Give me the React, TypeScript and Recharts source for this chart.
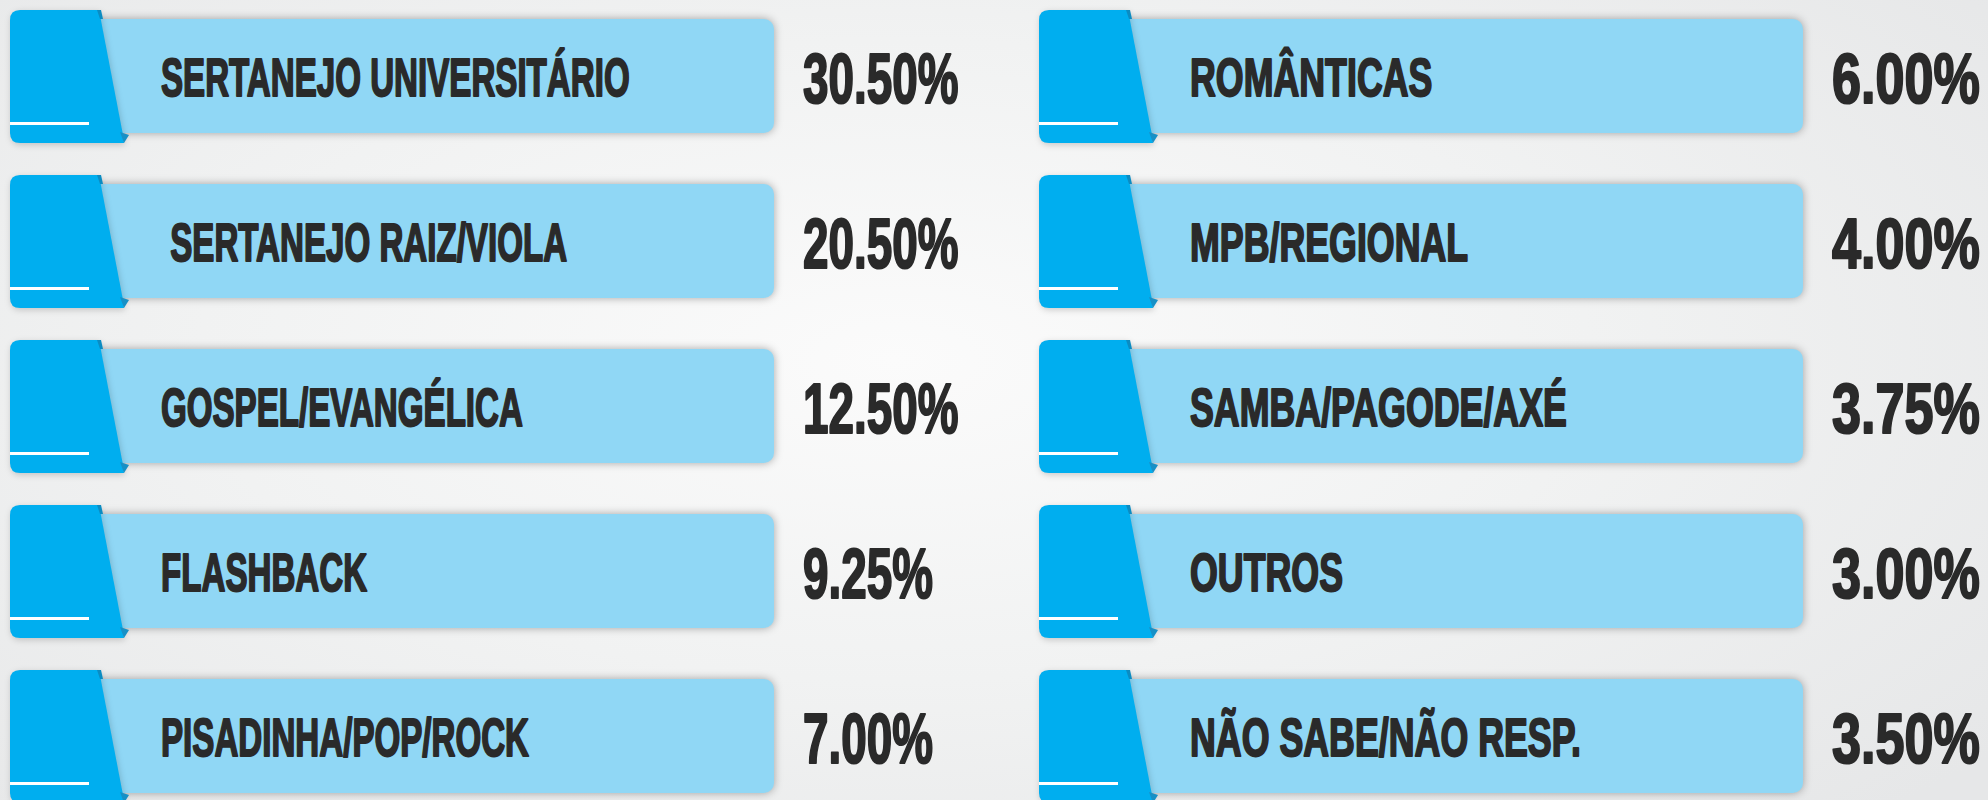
import React from 'react';
import { BarChart, Bar, XAxis, YAxis } from 'recharts';

const leftCategories = [
  'SERTANEJO UNIVERSITÁRIO',
  ' SERTANEJO RAIZ/VIOLA',
  'GOSPEL/EVANGÉLICA',
  'FLASHBACK',
  'PISADINHA/POP/ROCK',
];
const leftValues = [30.5, 20.5, 12.5, 9.25, 7.0];

const rightCategories = [
  'ROMÂNTICAS',
  'MPB/REGIONAL',
  'SAMBA/PAGODE/AXÉ',
  'OUTROS',
  'NÃO SABE/NÃO RESP.',
];
const rightValues = [6.0, 4.0, 3.75, 3.0, 3.5];

const leftData = leftCategories.map((name, i) => ({ name, value: leftValues[i] }));
const rightData = rightCategories.map((name, i) => ({ name, value: rightValues[i] }));

const TAB = '#00AEEF';
const LIGHT = '#90D7F5';
const TEXT = '#2a2a2a';

const makeRibbon = (nameScale: number, valueScale: number) => (props: any) => {
  const { x, y, width, payload } = props;
  const X = x;
  const Y = y;
  const W = width;
  const tabPath = `M ${X + 10} ${Y} L ${X + 89} ${Y} L ${X + 113} ${Y + 125} L ${X + 114} ${Y + 133} L ${X + 10} ${Y + 133} Q ${X} ${Y + 133} ${X} ${Y + 123} L ${X} ${Y + 10} Q ${X} ${Y} ${X + 10} ${Y} Z`;
  return (
    <g>
      <rect
        x={X + 60}
        y={Y + 9}
        width={W - 60}
        height={114}
        rx={10}
        ry={10}
        fill={LIGHT}
        style={{ filter: 'drop-shadow(0px 0px 4px rgba(0,0,0,0.33))' }}
      />
      <path d={tabPath} fill={TAB} style={{ filter: 'drop-shadow(1px 2px 3px rgba(0,0,0,0.18))' }} />
      <polygon
        points={`${X + 110},${Y + 122} ${X + 119},${Y + 125} ${X + 114},${Y + 133}`}
        fill="#1790c6"
      />
      <polygon points={`${X + 87},${Y} ${X + 91},${Y} ${X + 93},${Y + 9} ${X + 90},${Y + 9}`} fill="#0b8cc2" />
      <rect x={X} y={Y + 112} width={79} height={3} fill="#ffffff" />
      <text
        transform={`translate(${X + 151},${Y + 86}) scale(${nameScale},1)`}
        x={0}
        y={0}
        fontFamily="'Liberation Sans', Arial, sans-serif"
        fontWeight="bold"
        fontSize={53}
        fill={TEXT}
        stroke={TEXT}
        strokeWidth={2}
        strokeLinejoin="round"
        style={{ whiteSpace: 'pre' }}
      >
        {payload.name}
      </text>
      <text
        transform={`translate(${X + W + 29},${Y + 93}) scale(${valueScale},1)`}
        x={0}
        y={0}
        fontFamily="'Liberation Sans', Arial, sans-serif"
        fontWeight="bold"
        fontSize={70}
        fill={TEXT}
        stroke={TEXT}
        strokeWidth={2.2}
        strokeLinejoin="round"
      >
        {payload.value.toFixed(2) + '%'}
      </text>
    </g>
  );
};

const LeftRibbon = makeRibbon(0.625, 0.655);
const RightRibbon = makeRibbon(0.675, 0.745);

const Column = ({ data, width, right, Shape }: { data: any[]; width: number; right: number; Shape: any }) => (
  <BarChart
    layout="vertical"
    data={data}
    width={width}
    height={840}
    margin={{ top: 0, right, bottom: 15, left: 10 }}
    barSize={133}
  >
    <XAxis type="number" hide domain={[0, 100]} />
    <YAxis type="category" dataKey="name" hide />
    <Bar dataKey="value" fill="none" background={<Shape />} isAnimationActive={false} />
  </BarChart>
);

export default function App() {
  return (
    <div
      style={{
        position: 'absolute',
        left: 0,
        top: 0,
        width: 1988,
        height: 800,
        overflow: 'hidden',
        background:
          'radial-gradient(ellipse 70% 80% at 45% 45%, #fbfbfb 0%, #f1f2f2 50%, #e6e7e8 100%)',
      }}
    >
      <div style={{ position: 'absolute', left: 0, top: -6 }}>
        <Column data={leftData} width={1029} right={255} Shape={LeftRibbon} />
      </div>
      <div style={{ position: 'absolute', left: 1029, top: -6 }}>
        <Column data={rightData} width={959} right={185} Shape={RightRibbon} />
      </div>
    </div>
  );
}
